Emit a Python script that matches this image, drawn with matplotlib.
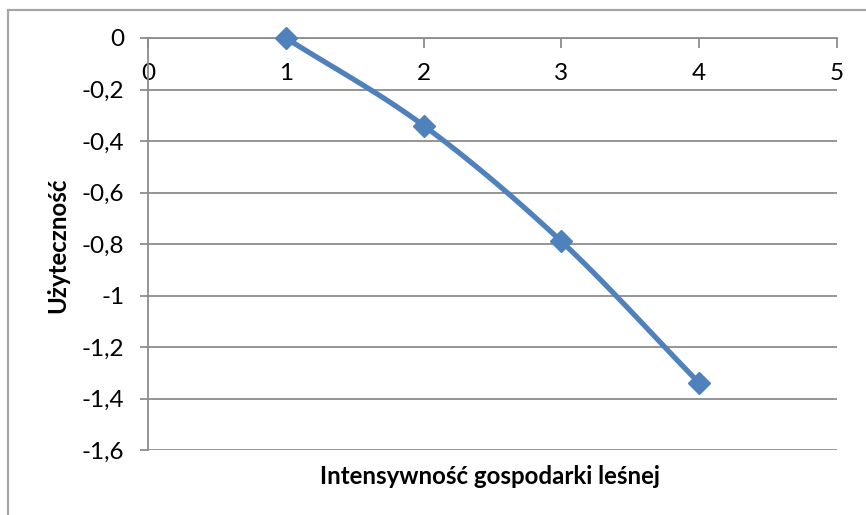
import numpy as np
import matplotlib
matplotlib.use("Agg")
import matplotlib.pyplot as plt
from matplotlib.patches import Rectangle

# Data
intensity = [1, 2, 3, 4]
utility = [0.0, -0.34, -0.79, -1.34]
x_ticks = [0, 1, 2, 3, 4, 5]
y_ticks = [-1.6, -1.4, -1.2, -1.0, -0.8, -0.6, -0.4, -0.2, 0.0]
x_title = "Intensywność gospodarki leśnej"
y_title = "Użyteczność"

LINE = "#4F81BD"
GRID = "#8C8C8C"
FONT = ["Lato", "DejaVu Sans"]
FS_TICK = 17.5
FS_TITLE = 17.3

W, H, DPI = 866, 515, 100
fig = plt.figure(figsize=(W / DPI, H / DPI), dpi=DPI)
plt.rcParams["font.family"] = FONT

# outer chart frame
fig.patches.append(Rectangle((8 / W, -0.05), 1.2, 1 - 10 / H + 0.05,
                             transform=fig.transFigure, fill=False,
                             edgecolor="#A6A6A6", linewidth=1.6))

left, right, top, bottom = 148, 837, 38, 450
ax = fig.add_axes([left / W, 1 - bottom / H, (right - left) / W, (bottom - top) / H])
ax.set_xlim(0, 5)
ax.set_ylim(-1.6, 0)


def catmull_rom(xs, ys, n=40):
    xs = np.asarray(xs, float)
    ys = np.asarray(ys, float)
    px = np.concatenate([[2 * xs[0] - xs[1]], xs, [2 * xs[-1] - xs[-2]]])
    py = np.concatenate([[2 * ys[0] - ys[1]], ys, [2 * ys[-1] - ys[-2]]])
    out_x, out_y = [], []
    t = np.linspace(0, 1, n)
    for i in range(1, len(px) - 2):
        p0, p1, p2, p3 = [np.array([px[j], py[j]]) for j in range(i - 1, i + 3)]
        tt = t[:, None]
        pts = 0.5 * ((2 * p1) + (-p0 + p2) * tt + (2 * p0 - 5 * p1 + 4 * p2 - p3) * tt ** 2
                     + (-p0 + 3 * p1 - 3 * p2 + p3) * tt ** 3)
        out_x.extend(pts[:, 0])
        out_y.extend(pts[:, 1])
    return np.array(out_x), np.array(out_y)


sx, sy = catmull_rom(intensity, utility)
ax.plot(sx, sy, color=LINE, linewidth=3.8, solid_capstyle="round", zorder=3, clip_on=False)
ax.plot(intensity, utility, linestyle="none", marker="D", markersize=11,
        color=LINE, zorder=4, clip_on=False)

# horizontal gridlines
ax.set_yticks(y_ticks)
ax.set_yticklabels([("%g" % v).replace(".", ",") if v != 0 else "0" for v in y_ticks])
ax.yaxis.grid(True, color=GRID, linewidth=1.3)
ax.set_axisbelow(True)

# x axis sits at y = 0
ax.spines["bottom"].set_position(("data", 0))
ax.spines["top"].set_visible(False)
ax.spines["right"].set_visible(False)
for s in ("bottom", "left"):
    ax.spines[s].set_color(GRID)
    ax.spines[s].set_linewidth(1.3)
ax.set_xticks(x_ticks)
ax.set_xticklabels([str(v) for v in x_ticks])
ax.tick_params(axis="x", direction="out", length=7, width=1.3, color=GRID,
               pad=11, labelsize=FS_TICK)
ax.tick_params(axis="y", direction="out", length=6, width=1.3, color=GRID,
               pad=11, labelsize=FS_TICK)

fig.text(490 / W, 1 - 476 / H, x_title, ha="center", va="center",
         fontsize=FS_TITLE, fontweight="bold")
fig.text(58 / W, 1 - 245 / H, y_title, ha="center", va="center",
         rotation=90, fontsize=FS_TITLE, fontweight="bold")

fig.savefig("out.png", dpi=DPI)
